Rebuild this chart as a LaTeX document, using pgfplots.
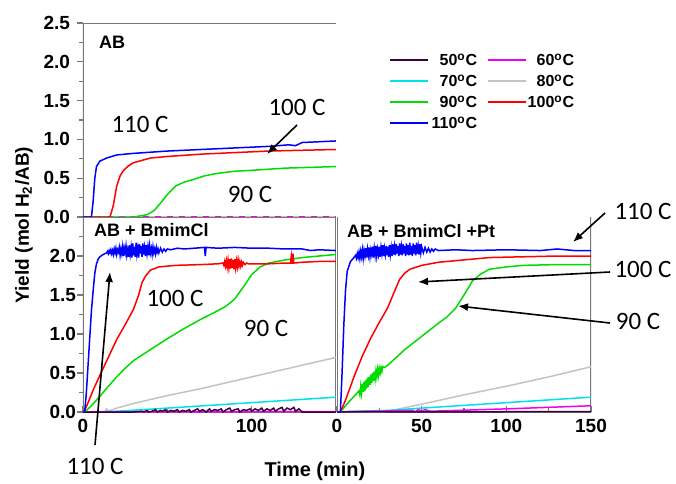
\documentclass[border=0pt]{standalone}
\usepackage{pgfplots}
\pgfplotsset{compat=1.18}
\usepackage{fontspec}
\setmainfont{Liberation Sans}
\newfontfamily\annfont{Carlito}
\usetikzlibrary{arrows.meta}

\definecolor{tfifty}{RGB}{60,0,60}
\definecolor{tsixty}{RGB}{240,0,240}
\definecolor{tseventy}{RGB}{0,225,235}
\definecolor{teighty}{RGB}{195,195,195}
\definecolor{tninety}{RGB}{0,220,0}
\definecolor{thundred}{RGB}{255,0,0}
\definecolor{thundredten}{RGB}{0,0,255}
\definecolor{framegray}{RGB}{120,120,120}

\pgfplotsset{
  panel/.style={
    scale only axis, anchor=south west,
    xmin=0, xmax=150, ymin=0, ymax=2.5,
    axis line style={draw=none},
    tick style={framegray, line width=0.6pt},
    major tick length=3pt, minor tick length=1.8pt,
    tick label style={font=\fontsize{9.5}{10}\selectfont\bfseries},
    /pgf/number format/assume math mode=true,
    yticklabel style={/pgf/number format/fixed, /pgf/number format/precision=1,
      /pgf/number format/fixed zerofill},
    every axis plot/.append style={line width=0.75pt, no markers},
  },
}

\begin{document}
\begin{tikzpicture}
\useasboundingbox (0,0) rectangle (338pt,-241.5pt);

% ---- AB ----
\begin{axis}[panel, at={(41.5pt,-108.5pt)}, width=126.5pt, height=97pt,
  xtick=\empty, ytick={0,0.5,1,1.5,2,2.5}, minor ytick={0.25,0.75,1.25,1.75,2.25},
  ytick pos=left, tick align=outside,
]
\draw[framegray, line width=0.6pt] (rel axis cs:1,0) -- (rel axis cs:0,0) -- (rel axis cs:0,1) -- (rel axis cs:1,1);
\addplot[tfifty] coordinates {(0,0) (150,0)};
\addplot[teighty] coordinates {(0,0) (150,0)};
\addplot[tseventy, dashed] coordinates {(0,0) (150,0)};
\addplot[tsixty, dashed] coordinates {(0,0) (150,0)};
\addplot[tninety] coordinates {(0,0) (30,0) (38,0.03) (42,0.08) (46,0.18) (50,0.29) (55,0.4)
  (60,0.45) (65,0.48) (72,0.53) (79,0.56) (90,0.59) (99,0.6) (120,0.63) (150,0.65)};
\addplot[thundred] coordinates {(0,0) (16,0) (18,0.15) (20,0.4) (22,0.53) (24,0.6) (27,0.66)
  (30,0.7) (40,0.76) (50,0.78) (70,0.81) (90,0.83) (110,0.85) (130,0.86) (150,0.87)};
\addplot[thundredten] coordinates {(0,0) (5,0) (6,0.2) (7,0.5) (8,0.65) (10,0.72) (14,0.76)
  (20,0.8) (30,0.82) (50,0.85) (70,0.87) (90,0.89) (110,0.91) (122,0.93) (126,0.92)
  (130,0.96) (140,0.97) (150,0.98)};
\end{axis}

% ---- AB + BmimCl ----
\begin{axis}[panel, at={(41.5pt,-206pt)}, width=126.5pt, height=97.5pt,
  xtick={0,100}, minor xtick={50}, ytick={0,0.5,1,1.5,2},
  minor ytick={0.25,0.75,1.25,1.75,2.25},
  xtick pos=bottom, ytick pos=left, tick align=inside,
  major y tick style={xshift=-3pt}, minor y tick style={xshift=-1.8pt},
]
\draw[framegray, line width=0.6pt] (rel axis cs:0,0) rectangle (rel axis cs:1,1);
\addplot[teighty] coordinates {(0,0) (13,0) (14,0.04) (15,0.01) (20,0.05) (30,0.11) (50,0.21)
  (70,0.3) (90,0.4) (110,0.5) (130,0.6) (150,0.7)};
\addplot[tseventy] coordinates {(0,0) (20,0.01) (50,0.05) (100,0.12) (150,0.19)};
\addplot[tsixty] coordinates {(0,0) (150,0.005)};
\addplot[tfifty] coordinates {(0,0) (30,0) (35,0.01) (36,0) (38,0.02) (39,0) (41,0.01)
  (43,0.03) (44,0) (46,0.02) (47,0.01) (49,0.03) (50,0) (52,0.02) (54,0.01) (56,0.03)
  (57,0) (59,0.02) (61,0.01) (63,0.03) (64,0) (66,0.02) (68,0.04) (69,0.01) (71,0.03)
  (73,0) (75,0.04) (76,0.01) (78,0.03) (80,0.02) (82,0.04) (83,0) (85,0.03) (87,0.05)
  (88,0.01) (90,0.03) (92,0.04) (93,0) (95,0.03) (97,0.02) (99,0.04) (100,0.01)
  (102,0.04) (104,0.02) (106,0.05) (107,0.01) (109,0.04) (111,0.02) (113,0.05)
  (114,0.01) (116,0.04) (118,0.06) (119,0.01) (121,0.05) (123,0.03) (125,0.06)
  (126,0.01) (128,0.04) (130,0) (150,0)};
\addplot[tninety] coordinates {(0,0) (2,0.02) (5,0.08) (10,0.2) (15,0.33) (20,0.45) (25,0.56)
  (30,0.66) (40,0.8) (50,0.94) (60,1.07) (70,1.19) (80,1.3) (85,1.36) (90,1.45)
  (95,1.6) (100,1.76) (105,1.86) (110,1.91) (120,1.95) (130,1.98) (140,2.0) (150,2.02)};
\addplot[thundred] coordinates {(0,0) (1,0.02) (3,0.12) (6,0.28) (10,0.47) (15,0.7) (20,0.93)
  (25,1.12) (30,1.32) (33,1.5) (35,1.66) (37,1.74) (40,1.82) (45,1.86) (55,1.88)
  (70,1.89) (80,1.9) (83,1.91) (83.5,1.88) (84,1.93) (84.5,1.87) (85,1.94) (85.5,1.86)
  (86,1.95) (86.5,1.85) (87,1.96) (87.5,1.84) (88,1.97) (88.5,1.85) (89,1.95)
  (89.5,1.83) (90,1.96) (90.5,1.85) (91,1.94) (91.5,1.86) (92,1.95) (92.5,1.87)
  (93,1.93) (93.5,1.87) (94,1.92) (94.5,1.88) (95,1.92) (96,1.89) (97,1.91) (98,1.9)
  (100,1.9) (110,1.9) (120,1.91) (123,1.91) (123.5,2.0) (124,1.9) (124.5,2.03)
  (125,1.91) (130,1.92) (140,1.93) (150,1.93)};
\addplot[thundredten] coordinates {(0,0) (1,0) (2,0.25) (3,0.6) (4,0.95) (5,1.3) (6,1.55)
  (7,1.78) (8,1.9) (9,1.96) (10,1.99) (12,2.02) (14,2.04) (14.5,2.06) (15,2.03)
  (15.5,2.07) (16,2.04) (16.5,2.08) (17,2.03) (17.5,2.07) (18,2.02) (18.5,2.09)
  (19,2.04) (19.5,2.1) (20,2.02) (20.5,2.08) (21,2.05) (21.5,2.11) (22,2.01)
  (22.5,2.09) (23,2.03) (23.5,2.12) (24,2.0) (24.5,2.1) (25,2.04) (25.5,2.13)
  (26,2.01) (26.5,2.08) (27,1.99) (27.5,2.14) (28,2.02) (28.5,2.11) (29,1.98)
  (29.5,2.16) (30,2.01) (30.5,2.12) (31,1.99) (31.5,2.17) (32,2.02) (32.5,2.1)
  (33,1.98) (33.5,2.15) (34,2.03) (34.5,2.13) (35,1.99) (35.5,2.16) (36,2.02)
  (36.5,2.11) (37,2.0) (37.5,2.14) (38,2.03) (38.5,2.12) (39,2.01) (39.5,2.13)
  (40,2.04) (40.5,2.1) (41,2.02) (41.5,2.12) (42,2.04) (42.5,2.09) (43,2.03)
  (43.5,2.11) (44,2.05) (44.5,2.09) (45,2.04) (46,2.1) (47,2.05) (48,2.09) (49,2.06)
  (50,2.09) (52,2.08) (56,2.1) (60,2.09) (66,2.1) (72,2.11) (72.5,2.0) (73,2.11)
  (80,2.1) (90,2.11) (100,2.1) (110,2.1) (120,2.09) (130,2.09) (135,2.07) (140,2.08)
  (150,2.07)};
\end{axis}

% ---- AB + BmimCl + Pt ----
\begin{axis}[panel, at={(168.5pt,-206pt)}, width=127pt, height=97.5pt,
  xtick={0,50,100,150}, minor xtick={25,75,125}, ytick=\empty,
  xtick pos=bottom, tick align=inside,
]
\draw[framegray, line width=0.6pt] (rel axis cs:0,1) -- (rel axis cs:0,0) -- (rel axis cs:1,0) -- (rel axis cs:1,1);
\addplot[teighty] coordinates {(0,0) (28,0) (30,0.01) (50,0.1) (75,0.22) (100,0.33) (125,0.45) (150,0.58)};
\addplot[tseventy] coordinates {(0,0) (10,0.01) (30,0.02) (50,0.05) (100,0.12) (150,0.19)};
\addplot[tsixty] coordinates {(0,0) (20,0.01) (45,0.02) (46,0.0) (48,0.03) (50,0.01)
  (52,0.03) (55,0.01) (100,0.04) (150,0.08)};
\addplot[tfifty] coordinates {(0,0) (150,0.005)};
\addplot[tninety] coordinates {(0,0) (2,0) (5,0.08) (10,0.2) (13,0.27) (13.5,0.22)
  (14,0.33) (14.5,0.24) (15,0.36) (15.5,0.26) (16,0.39) (16.5,0.27) (17,0.41)
  (17.5,0.3) (18,0.44) (18.5,0.32) (19,0.45) (19.5,0.35) (20,0.48) (20.5,0.37)
  (21,0.5) (21.5,0.4) (22,0.52) (22.5,0.42) (23,0.53) (23.5,0.45) (24,0.55)
  (24.5,0.47) (25,0.56) (25.5,0.5) (26,0.57) (26.5,0.52) (27,0.58) (28,0.57)
  (30,0.6) (35,0.7) (40,0.8) (50,0.97) (60,1.14) (65,1.22) (70,1.33) (75,1.5)
  (80,1.68) (85,1.77) (90,1.83) (100,1.86) (110,1.88) (130,1.89) (150,1.89)};
\addplot[thundred] coordinates {(0,0) (2,0) (5,0.15) (10,0.45) (15,0.72) (20,0.95) (25,1.15)
  (30,1.34) (34,1.55) (37,1.7) (40,1.78) (43,1.83) (50,1.88) (60,1.92) (75,1.95)
  (90,1.98) (110,1.99) (130,2.0) (150,2.0)};
\addplot[thundredten] coordinates {(0,0) (2,0) (3,0.5) (4,1.1) (5,1.55) (6,1.8) (8,1.93)
  (10,1.98) (11,2.01) (11.5,1.97) (12,2.03) (12.5,1.98) (13,2.05) (13.5,1.97)
  (14,2.06) (14.5,1.99) (15,2.08) (15.5,1.97) (16,2.07) (16.5,2.0) (17,2.1)
  (17.5,1.98) (18,2.09) (18.5,2.01) (19,2.11) (19.5,1.99) (20,2.08) (20.5,2.02)
  (21,2.12) (21.5,1.98) (22,2.1) (22.5,2.01) (23,2.13) (23.5,2.0) (24,2.09)
  (24.5,2.02) (25,2.12) (25.5,1.99) (26,2.11) (26.5,2.03) (27,2.14) (27.5,2.0)
  (28,2.1) (28.5,2.02) (29,2.13) (29.5,2.01) (30,2.12) (30.5,1.99) (31,2.14)
  (31.5,2.02) (32,2.11) (32.5,2.0) (33,2.15) (33.5,2.02) (34,2.12) (34.5,2.01)
  (35,2.15) (35.5,2.03) (36,2.13) (36.5,2.0) (37,2.16) (37.5,2.02) (38,2.12)
  (38.5,2.01) (39,2.15) (39.5,2.03) (40,2.13) (40.5,2.0) (41,2.16) (41.5,2.02)
  (42,2.14) (42.5,2.01) (43,2.17) (43.5,2.02) (44,2.13) (44.5,2.0) (45,2.16)
  (45.5,2.03) (46,2.14) (46.5,2.01) (47,2.17) (47.5,2.03) (48,2.12) (48.5,2.02)
  (49,2.15) (49.5,2.04) (50,2.12) (51,2.04) (52,2.11) (53,2.05) (54,2.1) (55,2.05)
  (56,2.09) (57,2.06) (58,2.09) (60,2.07) (70,2.08) (80,2.07) (100,2.08) (120,2.07)
  (130,2.09) (140,2.07) (150,2.07)};
\end{axis}

% ---- legend (drawn by hand: two columns, labels right-aligned) ----
\begin{scope}[line width=0.7pt, every node/.style={anchor=east, inner sep=0pt,
    font=\fontsize{8}{8}\selectfont\bfseries}]
\draw[tfifty] (195pt,-30pt) -- (214pt,-30pt);
\node at (239pt,-30pt) {50\textsuperscript{o}C};
\draw[tsixty] (244pt,-30pt) -- (263pt,-30pt);
\node at (287.5pt,-30pt) {60\textsuperscript{o}C};
\draw[tseventy] (195pt,-40.5pt) -- (214pt,-40.5pt);
\node at (239pt,-40.5pt) {70\textsuperscript{o}C};
\draw[teighty] (244pt,-40.5pt) -- (263pt,-40.5pt);
\node at (287.5pt,-40.5pt) {80\textsuperscript{o}C};
\draw[tninety] (195pt,-51pt) -- (214pt,-51pt);
\node at (239pt,-51pt) {90\textsuperscript{o}C};
\draw[thundred] (244pt,-51pt) -- (263pt,-51pt);
\node at (287.5pt,-51pt) {100\textsuperscript{o}C};
\draw[thundredten] (195pt,-61.5pt) -- (214pt,-61.5pt);
\node at (239pt,-61.5pt) {110\textsuperscript{o}C};
\end{scope}

% ---- labels and annotations ----
\path (12pt,-112.5pt) node[rotate=90, font=\fontsize{9.5}{10}\selectfont\bfseries] {Yield (mol H\textsubscript{2}/AB)};
\path (157.5pt,-235.5pt) node[font=\fontsize{10}{11}\selectfont\bfseries] {Time (min)};

\node[anchor=west, font=\fontsize{9}{10}\selectfont\bfseries] at (46pt,-21pt) {AB};
\node[anchor=west, font=\fontsize{9}{10}\selectfont\bfseries] at (43.5pt,-115pt) {AB + BmimCl};
\node[anchor=west, font=\fontsize{9}{10}\selectfont\bfseries] at (170pt,-115.5pt) {AB + BmimCl +Pt};

\begin{scope}[font=\annfont\fontsize{12.5}{13}\selectfont]
\node at (70pt,-62pt) {110 C};
\node at (148.5pt,-53.5pt) {100 C};
\node at (125pt,-97pt) {90 C};
\node at (87.5pt,-149pt) {100 C};
\node at (133pt,-164pt) {90 C};
\node at (47.5pt,-233pt) {110 C};
\node at (321.5pt,-105.5pt) {110 C};
\node at (321.5pt,-134.5pt) {100 C};
\node at (319pt,-160.5pt) {90 C};
\end{scope}

\begin{scope}[line width=0.8pt, -{Latex[length=5pt,width=4pt]}]
\draw (148.5pt,-62.5pt) -- (133.5pt,-77pt);
\draw (47.5pt,-222.5pt) -- (55pt,-136pt);
\draw (302.5pt,-106.5pt) -- (286.5pt,-121pt);
\draw (305pt,-136pt) -- (209pt,-141pt);
\draw (305pt,-161.5pt) -- (229pt,-153pt);
\end{scope}
\end{tikzpicture}
\end{document}
